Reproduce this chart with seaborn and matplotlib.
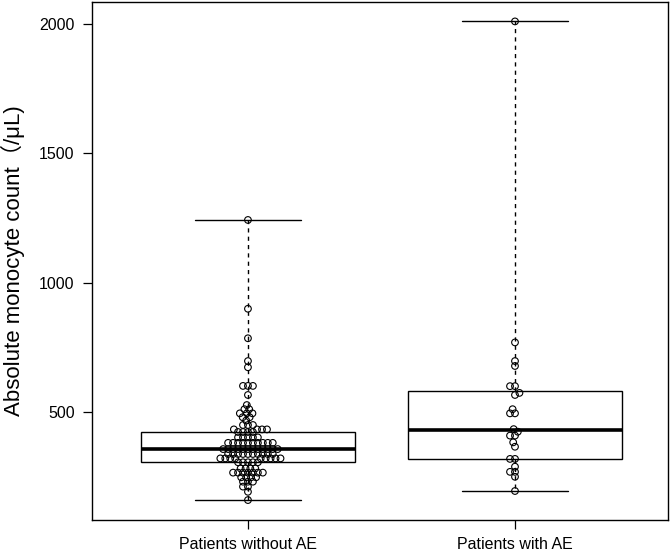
import numpy as np
import pandas as pd
import seaborn as sns
import matplotlib
matplotlib.use("Agg")
import matplotlib.pyplot as plt

categories = ["Patients without AE", "Patients with AE"]

without_ae = ([1243, 900, 786, 698, 674, 602, 602, 602, 567, 528, 512, 512,
               496, 496, 496, 481, 481, 468, 451, 451, 451]
              + [434] * 4 + [424] * 4 + [403] * 5 + [382] * 10 + [358] * 12
              + [339] * 10 + [322] * 9 + [307] * 5 + [283] * 4 + [267] * 7
              + [249] * 4 + [232] * 3 + [213] * 2 + [193, 161])

with_ae = [2010, 770, 698, 679, 601, 601, 575, 567, 512, 496, 496, 435,
           425, 410, 410, 384, 367, 320, 320, 290, 270, 270, 251, 196]

yticks = [500, 1000, 1500, 2000]
ylabel = "Absolute monocyte count（/μL)"

df = pd.DataFrame({
    "group": [categories[0]] * len(without_ae) + [categories[1]] * len(with_ae),
    "value": without_ae + with_ae,
})

sns.set_theme(style="ticks")
plt.rcParams['font.family'] = ['Liberation Sans', 'Noto Sans CJK SC', 'DejaVu Sans']

fig = plt.figure(figsize=(6.72, 5.54), dpi=100)
ax = fig.add_axes([92 / 672, 34 / 554, 576 / 672, 518 / 554])

sns.boxplot(data=df, x="group", y="value", order=categories, ax=ax,
            whis=(0, 100), width=0.8, color="white", saturation=1,
            linecolor="black", linewidth=1.0, showfliers=False,
            whiskerprops={"linestyle": (0, (3, 3))},
            medianprops={"linewidth": 2.6, "color": "black"})

n_before = len(ax.collections)
# lay the swarm out with a compact packing size (beeswarm-like overlap)
sns.swarmplot(data=df, x="group", y="value", order=categories, ax=ax,
              size=3.4, color="black")
swarm_colls = ax.collections[n_before:]

ax.set_xlim(-0.584, 1.573)
ax.set_ylim(84, 2085)
ax.set_yticks(yticks)
ax.set_yticklabels([str(t) for t in yticks])
ax.set_xlabel("")
ax.set_ylabel(ylabel, fontsize=16, color="black", labelpad=10)
ax.tick_params(axis="both", direction="out", length=6.5, width=0.9,
               colors="black", labelsize=11.5, pad=6)
for s in ax.spines.values():
    s.set_visible(True)
    s.set_color("black")
    s.set_linewidth(1.0)
ax.grid(False)

# compute the swarm layout, then freeze it and draw larger open circles
fig.canvas.draw()
for coll in swarm_colls:
    if "draw" in coll.__dict__:
        del coll.__dict__["draw"]
    coll.set_sizes([4.8 ** 2])
    coll.set_facecolor("none")
    coll.set_edgecolor("black")
    coll.set_linewidth(0.8)

fig.savefig("out.png", dpi=100)
